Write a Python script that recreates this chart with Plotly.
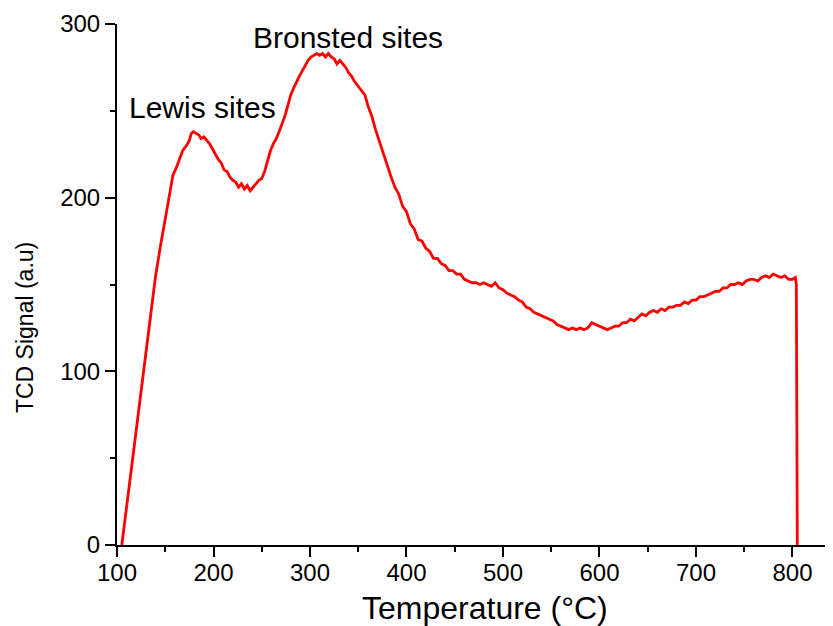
import plotly.graph_objects as go

temperature = [105, 110, 115, 120, 125, 130, 135, 140, 145, 150, 155, 158, 162, 165, 168, 172, 175, 177, 179,
               182, 185, 187, 190, 193, 196, 199, 202, 205, 208, 211, 214, 217, 220, 223, 226, 229, 232, 235, 238,
               241, 244, 247, 250, 253, 256, 259, 262, 265, 268, 271, 274, 277, 280, 283, 286, 289, 292, 295,
               298, 301, 304, 307, 310, 313, 316, 319, 322, 325, 328, 331, 334, 337, 340, 343, 346, 350, 354,
               357, 360, 364, 368, 372, 376, 380, 384, 388, 392, 396, 400, 404, 408, 412, 416, 420, 424, 428,
               432, 436, 440, 444, 448, 452, 456, 460, 464, 468, 472, 476, 480, 484, 488, 492, 496, 500, 504,
               508, 512, 516, 520, 524, 528, 532, 536, 540, 544, 548, 552, 556, 560, 564, 568, 572, 576, 580,
               584, 588, 592, 596, 600, 604, 608, 612, 616, 620, 624, 628, 632, 636, 640, 644, 648, 652, 656,
               660, 664, 668, 672, 676, 680, 684, 688, 692, 696, 700, 704, 708, 712, 716, 720, 724, 728, 732,
               736, 740, 744, 748, 752, 756, 760, 764, 768, 772, 776, 780, 784, 788, 792, 796, 800, 803, 804,
               805]
tcd_signal = [0, 22, 45, 67, 89, 111, 133, 155, 172, 188, 203, 213, 218, 222, 227, 230, 233, 237, 238,
              237, 236, 234, 235, 233, 231, 228, 225, 222, 220, 216, 215, 212, 210, 209, 206, 208, 205, 207, 204,
              206, 208, 210, 211, 215, 221, 227, 231, 234, 238, 242, 247, 253, 259, 263, 267, 270, 273, 276,
              279, 281, 282, 283, 282, 283, 281, 283, 281, 280, 277, 279, 277, 275, 272, 270, 267, 264, 261,
              259, 253, 247, 239, 232, 225, 218, 212, 206, 202, 195, 192, 185, 182, 176, 175, 171, 169, 165,
              165, 162, 161, 158, 158, 156, 156, 153, 152, 151, 151, 150, 151, 150, 149, 151, 148, 147, 145,
              144, 143, 141, 140, 137, 136, 134, 133, 132, 131, 130, 129, 127, 126, 125, 124, 125, 124, 125,
              124, 125, 128, 127, 126, 125, 124, 125, 126, 126, 128, 128, 130, 129, 131, 133, 132, 134, 135,
              134, 136, 135, 137, 137, 138, 138, 140, 139, 141, 141, 143, 143, 144, 145, 146, 146, 148, 148,
              150, 150, 151, 150, 152, 153, 153, 152, 154, 155, 154, 156, 155, 154, 155, 153, 153, 154, 150,
              0]

annotations_text = ["Lewis sites", "Bronsted sites"]
annotations_x = [189, 339]
annotations_y = [252, 292.5]

x_title = "Temperature (°C)"
y_title = "TCD Signal (a.u)"

FONT = "Liberation Sans, Arial, sans-serif"

fig = go.Figure()
fig.add_trace(go.Scatter(x=temperature, y=tcd_signal, mode="lines",
                         line=dict(color="#ff0000", width=2.8), showlegend=False))

for t, ax, ay in zip(annotations_text, annotations_x, annotations_y):
    fig.add_annotation(x=ax, y=ay, text=t, showarrow=False, xref="x", yref="y",
                       font=dict(family=FONT, size=30, color="black"))

# axis titles as annotations (the reference titles are off-centre)
fig.add_annotation(x=481, y=-0.121, xref="x", yref="paper", text=x_title, showarrow=False,
                   yanchor="middle", font=dict(family=FONT, size=32, color="black"))
fig.add_annotation(x=-0.1285, y=125.5, xref="paper", yref="y", text=y_title, showarrow=False,
                   textangle=-90, xanchor="center", font=dict(family=FONT, size=23, color="black"))

axis_common = dict(showgrid=False, zeroline=False, showline=True, linecolor="black", linewidth=2,
                   ticks="outside", ticklen=10, tickwidth=2, tickcolor="black", automargin=False,
                   tickfont=dict(family=FONT, size=24, color="black"))

fig.update_xaxes(range=[100, 842], tickvals=[100, 200, 300, 400, 500, 600, 700, 800],
                 minor=dict(tickvals=[150, 250, 350, 450, 550, 650, 750], ticks="outside", ticklen=5,
                            tickwidth=2, tickcolor="black"),
                 ticklabelstandoff=-5,
                 **axis_common)
fig.update_yaxes(range=[0, 300], tickvals=[0, 100, 200, 300],
                 minor=dict(tickvals=[50, 150, 250], ticks="outside", ticklen=5,
                            tickwidth=2, tickcolor="black"),
                 ticklabelstandoff=0,
                 **axis_common)

# the page adds an 8px body margin, so the figure is sized/positioned to compensate
fig.update_layout(width=825, height=618, margin=dict(l=109, r=0, t=16, b=81),
                  plot_bgcolor="white", paper_bgcolor="white")

fig.write_html("out.html")
